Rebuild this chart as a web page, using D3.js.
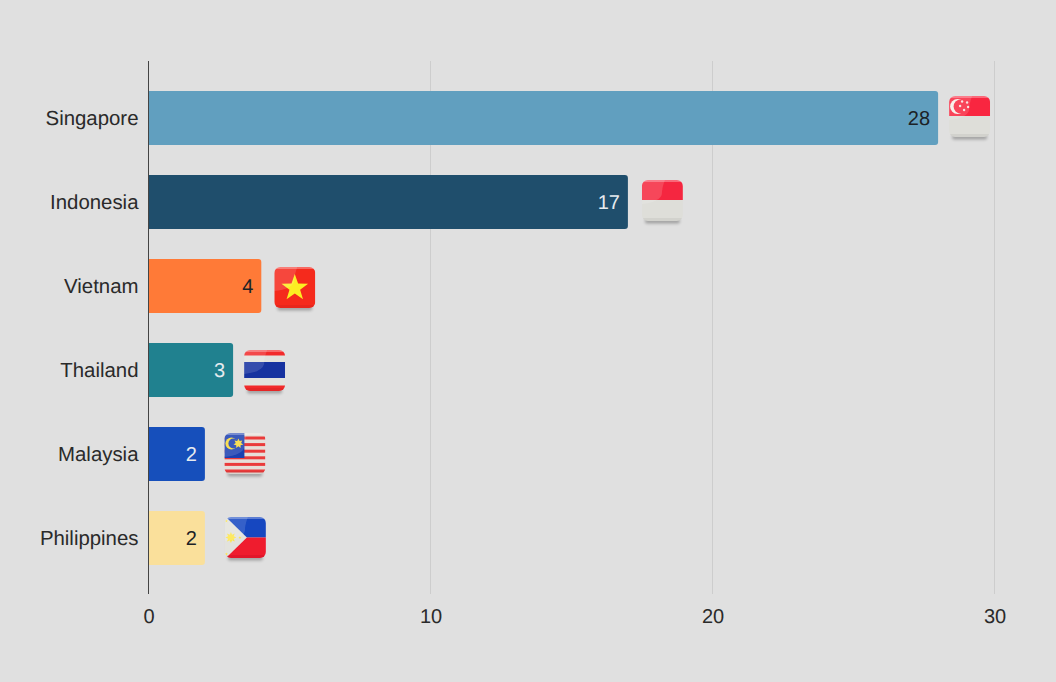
<!DOCTYPE html>
<html>
<head>
<meta charset="utf-8">
<script src="https://cdnjs.cloudflare.com/ajax/libs/d3/7.8.5/d3.min.js"></script>
<style>
  html, body { margin: 0; padding: 0; background: #e0e0e0; }
  svg { display: block; }
  text { font-family: "Liberation Sans", Arial, sans-serif; text-rendering: geometricPrecision; }
</style>
</head>
<body>
<script>
const countries = ["Singapore", "Indonesia", "Vietnam", "Thailand", "Malaysia", "Philippines"];
const counts = [28, 17, 4, 3, 2, 2];
const barColors = ["#619fbf", "#1f4e6c", "#ff7a37", "#20818f", "#164fbb", "#fae09b"];
const labelColors = ["#1c2226", "#e6ebef", "#1c2226", "#e6ebef", "#e6ebef", "#1c2226"];
const xTicks = [0, 10, 20, 30];

// the flag pictures do not sit at a constant distance from their bars
const flagGaps = [11, 14, 13, 11, 19.5, 20];
const flagLifts = [22, 22, 19, 20, 21, 21];

const width = 1056;
const height = 682;
const flagSize = 41;

const svg = d3.select("body").append("svg")
  .attr("width", width)
  .attr("height", height);

const x = d3.scaleLinear().domain([0, 30]).range([148.5, 994.5]);
const y = d3.scaleBand().domain(countries).range([76, 580]).paddingInner(30 / 84).paddingOuter(15 / 84);

const defs = svg.append("defs");

const blur = defs.append("filter").attr("id", "soft")
  .attr("x", "-10%").attr("y", "-10%").attr("width", "120%").attr("height", "120%");
blur.append("feGaussianBlur").attr("stdDeviation", 0.5);

const shadowBlur = defs.append("filter").attr("id", "shadow")
  .attr("x", "-20%").attr("y", "-80%").attr("width", "140%").attr("height", "260%");
shadowBlur.append("feGaussianBlur").attr("stdDeviation", 1.6);

defs.append("clipPath").attr("id", "flag-clip")
  .append("rect").attr("width", flagSize).attr("height", flagSize).attr("rx", 6);

// grid
svg.append("g").selectAll("line")
  .data(xTicks.filter((d) => d > 0))
  .join("line")
  .attr("x1", (d) => x(d)).attr("x2", (d) => x(d))
  .attr("y1", 61).attr("y2", 594)
  .attr("stroke", "#cdcdcd")
  .attr("stroke-width", 1);

// bars
const rows = countries.map((c, i) => ({
  country: c,
  value: counts[i],
  color: barColors[i],
  labelColor: labelColors[i],
  gap: flagGaps[i],
  lift: flagLifts[i],
}));

svg.append("g").selectAll("path")
  .data(rows)
  .join("path")
  .attr("fill", (d) => d.color)
  .attr("d", (d) => {
    const x0 = x(0) + 0.5, x1 = x(d.value), y0 = y(d.country), y1 = y0 + y.bandwidth(), r = 3;
    return `M${x0},${y0}H${x1 - r}Q${x1},${y0} ${x1},${y0 + r}V${y1 - r}Q${x1},${y1} ${x1 - r},${y1}H${x0}Z`;
  });

// value labels
svg.append("g").selectAll("text")
  .data(rows)
  .join("text")
  .attr("x", (d) => x(d.value) - 8)
  .attr("y", (d) => y(d.country) + y.bandwidth() / 2)
  .attr("dy", "0.35em")
  .attr("text-anchor", "end")
  .attr("font-size", 20)
  .attr("fill", (d) => d.labelColor)
  .text((d) => d.value);

// y axis
const yAxis = d3.axisLeft(y).tickSize(0).tickPadding(10);
const yG = svg.append("g").attr("transform", "translate(148.5,0.5)").call(yAxis);
yG.select(".domain").remove();
yG.attr("font-family", null);
yG.selectAll("text").attr("font-size", 20.4).attr("fill", "#2a2a2a");

svg.append("line")
  .attr("x1", 148.5).attr("x2", 148.5)
  .attr("y1", 61).attr("y2", 594)
  .attr("stroke", "#444");

// x axis
const xAxis = d3.axisBottom(x).tickValues(xTicks).tickSize(0).tickPadding(0);
const xG = svg.append("g").attr("transform", "translate(0,609)").call(xAxis);
xG.select(".domain").remove();
xG.attr("font-family", null);
xG.selectAll("text").attr("font-size", 20).attr("fill", "#2a2a2a").attr("dy", "0.71em");

// flags
function star(g, cx, cy, r, fill, n = 5, inner = 0.4) {
  const pts = d3.range(n * 2).map((i) => {
    const a = -Math.PI / 2 + (i * Math.PI) / n;
    const rr = i % 2 ? r * inner : r;
    return [cx + rr * Math.cos(a), cy + rr * Math.sin(a)];
  });
  g.append("polygon").attr("points", pts.join(" ")).attr("fill", fill);
}

function rect(g, yy, h, fill) {
  g.append("rect").attr("x", 0).attr("y", yy).attr("width", flagSize).attr("height", h).attr("fill", fill);
}

const flagDraw = {
  Singapore(g) {
    rect(g, 0, 20, "#f9273f");
    rect(g, 20, 21, "#deded9");
    g.append("circle").attr("cx", 8.5).attr("cy", 10.5).attr("r", 7.5).attr("fill", "#f7efe9");
    g.append("circle").attr("cx", 11.5).attr("cy", 10.5).attr("r", 7).attr("fill", "#f9273f");
    [[13, 5.5], [18, 6.5], [11, 10], [19, 11], [15, 14]].forEach(([cx, cy]) =>
      g.append("circle").attr("cx", cx).attr("cy", cy).attr("r", 1.2).attr("fill", "#f9dcdc"));
  },
  Indonesia(g) {
    rect(g, 0, 20, "#f5283f");
    rect(g, 20, 21, "#deded9");
  },
  Vietnam(g) {
    rect(g, 0, 41, "#f5291f");
    star(g, 20.5, 21, 14, "#fcee21");
  },
  Thailand(g) {
    rect(g, 0, 41, "#e2e2dd");
    rect(g, 0, 5.5, "#f22a2a");
    rect(g, 12, 16, "#1632a0");
    rect(g, 35.5, 5.5, "#f22a2a");
  },
  Malaysia(g) {
    rect(g, 0, 41, "#e6dfd9");
    d3.range(6).forEach((i) => rect(g, 3.5 + i * 6.6, 3, "#ea3b3b"));
    g.append("rect").attr("width", 20).attr("height", 25).attr("fill", "#1b3fb0");
    g.append("circle").attr("cx", 7).attr("cy", 10.5).attr("r", 6).attr("fill", "#f7d93a");
    g.append("circle").attr("cx", 9).attr("cy", 10.5).attr("r", 5).attr("fill", "#1b3fb0");
    star(g, 14, 10.5, 5, "#f7d93a", 7, 0.55);
  },
  Philippines(g) {
    rect(g, 0, 20.5, "#1546c0");
    rect(g, 20.5, 20.5, "#ef1a2d");
    g.append("polygon").attr("points", "0,-1 22,20.5 0,42").attr("fill", "#e2e2dd");
    star(g, 6, 20.5, 5.5, "#fde64a", 8, 0.55);
    star(g, 15, 20.5, 1.6, "#fde64a");
    star(g, 1.5, 4, 1.6, "#fde64a");
    star(g, 1.5, 37, 1.6, "#fde64a");
  },
};

const flags = svg.append("g").selectAll("g")
  .data(rows)
  .join("g")
  .attr("transform", (d) => `translate(${x(d.value) + d.gap},${y(d.country) + y.bandwidth() / 2 - d.lift})`);

flags.append("rect")
  .attr("x", 3).attr("y", 39).attr("width", flagSize - 6).attr("height", 4.5).attr("rx", 2)
  .attr("fill", "#000").attr("opacity", 0.28)
  .attr("filter", "url(#shadow)");

flags.each(function (d) {
  const g = d3.select(this).append("g").attr("clip-path", "url(#flag-clip)").append("g").attr("filter", "url(#soft)");
  flagDraw[d.country](g);
  // gloss on the left of the flag
  g.append("path")
    .attr("d", "M0,0H23Q20,8 20,14Q18,22 0,24Z")
    .attr("fill", "#fff").attr("opacity", 0.14);
  g.append("rect").attr("x", 0).attr("y", 0).attr("width", flagSize).attr("height", 2)
    .attr("fill", "#fff").attr("opacity", 0.3);
  g.append("rect").attr("x", 0).attr("y", flagSize - 3).attr("width", flagSize).attr("height", 3)
    .attr("fill", "#000").attr("opacity", 0.05);
});
</script>
</body>
</html>
